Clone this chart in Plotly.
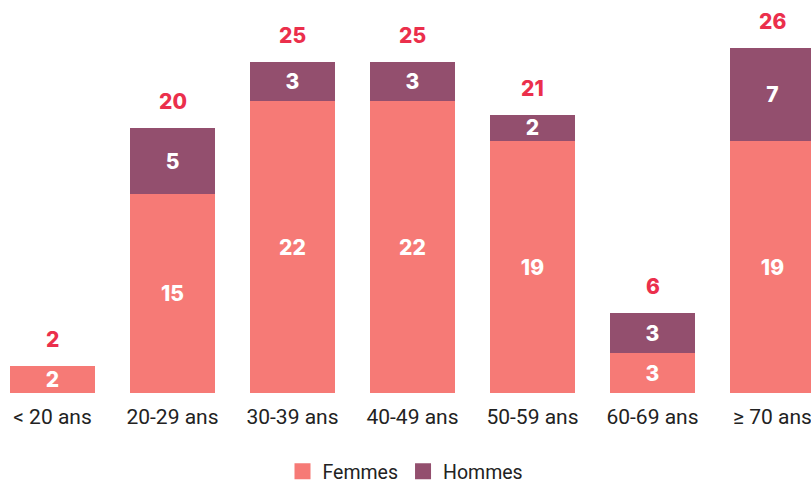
import plotly.graph_objects as go

categories = ["< 20 ans", "20-29 ans", "30-39 ans", "40-49 ans", "50-59 ans", "60-69 ans", "≥ 70 ans"]
femmes = [2, 15, 22, 22, 19, 3, 19]
hommes = [0, 5, 3, 3, 2, 3, 7]
totals = [f + h for f, h in zip(femmes, hommes)]

C_F = "#F67A76"
C_H = "#934F6E"
C_T = "#EB2F4C"
NUM_FAMILY = "Inter, Roboto, sans-serif"
NUM_FONT = dict(family=NUM_FAMILY, size=21, color="white", weight=800)

fig = go.Figure()
fig.add_bar(
    x=categories, y=femmes, name="Femmes", marker_color=C_F, width=0.71,
    text=[str(v) if v else "" for v in femmes], textposition="inside", textangle=0,
    insidetextanchor="middle", textfont=NUM_FONT, constraintext="none",
    showlegend=False, marker_line_width=0,
)
fig.add_bar(
    x=categories, y=hommes, name="Hommes", marker_color=C_H, width=0.71,
    text=[str(v) if v else "" for v in hommes], textposition="inside", textangle=0,
    insidetextanchor="middle", textfont=NUM_FONT, constraintext="none",
    showlegend=False, marker_line_width=0,
)
# legend entries with larger square symbols
for name, col in [("Femmes", C_F), ("Hommes", C_H)]:
    fig.add_scatter(x=[None], y=[None], mode="markers", name=name,
                    marker=dict(symbol="square", size=17, color=col))

for c, t in zip(categories, totals):
    fig.add_annotation(
        x=c, y=t, text=str(t), showarrow=False, yanchor="bottom", yshift=12,
        font=dict(family=NUM_FAMILY, size=21, color=C_T, weight=800),
    )

fig.update_layout(
    barmode="stack",
    width=811, height=484,
    margin=dict(l=0, r=0, t=10, b=91, autoexpand=False),
    plot_bgcolor="white", paper_bgcolor="white",
    showlegend=True,
    legend=dict(orientation="h", x=0.5, xanchor="center", y=-0.205, yanchor="middle",
                font=dict(family="Roboto, sans-serif", size=19.5, color="#222222"),
                itemwidth=30, traceorder="normal", borderwidth=0),
    xaxis=dict(range=[-0.4375, 6.3208], showgrid=False, showline=False, zeroline=False,
               tickfont=dict(family="Roboto, sans-serif", size=21, color="#222222"),
               ticklabelstandoff=9),
    yaxis=dict(range=[0, 28.9], visible=False, showgrid=False, zeroline=False),
)

fig.write_html(
    "out.html",
    config={"displayModeBar": False},
    post_script="document.body.style.margin='0';document.body.style.padding='0';document.body.style.overflow='hidden';",
)
